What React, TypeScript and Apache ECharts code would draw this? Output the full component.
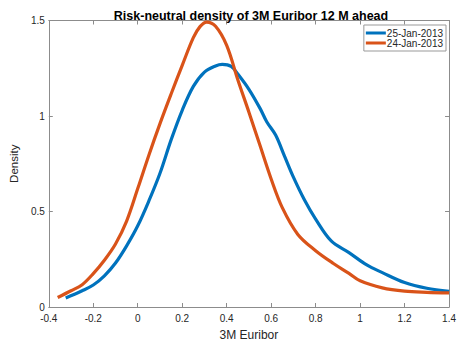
import React, { useEffect, useRef } from "react";
import * as echarts from "echarts";

const xTicksMin = -0.4;
const xTicksMax = 1.4;
const yTicksMax = 1.5;

const blueX = [-0.324, -0.25, -0.2, -0.15, -0.1, -0.05, 0.0, 0.05, 0.1, 0.15, 0.2, 0.25, 0.3, 0.35, 0.38, 0.42, 0.45, 0.5, 0.55, 0.58, 0.62, 0.66, 0.7, 0.75, 0.8, 0.87, 0.95, 1.03, 1.1, 1.2, 1.3, 1.4];
const blueY = [0.047, 0.085, 0.115, 0.163, 0.23, 0.32, 0.425, 0.555, 0.7, 0.875, 1.03, 1.155, 1.23, 1.262, 1.27, 1.26, 1.22, 1.14, 1.04, 0.97, 0.9, 0.79, 0.68, 0.56, 0.46, 0.346, 0.285, 0.22, 0.18, 0.128, 0.098, 0.082];

const orangeX = [-0.36, -0.3, -0.25, -0.2, -0.15, -0.1, -0.05, 0.0, 0.05, 0.1, 0.15, 0.2, 0.25, 0.28, 0.31, 0.35, 0.4, 0.45, 0.5, 0.55, 0.6, 0.65, 0.72, 0.8, 0.88, 0.95, 1.0, 1.1, 1.2, 1.3, 1.4];
const orangeY = [0.05, 0.085, 0.117, 0.175, 0.245, 0.33, 0.45, 0.62, 0.795, 0.96, 1.115, 1.265, 1.41, 1.468, 1.492, 1.47, 1.37, 1.19, 1.02, 0.845, 0.67, 0.52, 0.38, 0.295, 0.228, 0.176, 0.137, 0.1, 0.083, 0.077, 0.074];

const seriesNames = ["25-Jan-2013", "24-Jan-2013"];
const titleText = "Risk-neutral density of 3M Euribor 12 M ahead";
const xName = "3M Euribor";
const yName = "Density";

const pair = (xs: number[], ys: number[]) => xs.map((x, i) => [x, ys[i]]);

export default function App() {
  const ref = useRef<HTMLDivElement>(null);
  useEffect(() => {
    if (!ref.current) return;
    const chart = echarts.init(ref.current, null, { renderer: "svg" });
    const axisColor = "#8c8c8c";
    const labelColor = "#262626";
    const font = "Liberation Sans, Arial, sans-serif";
    const boxLine = { show: true, onZero: false, lineStyle: { color: axisColor } };
    const tick = { show: true, inside: true, length: 4, lineStyle: { color: axisColor } };
    chart.setOption({
      animation: false,
      backgroundColor: "#ffffff",
      title: {
        text: titleText,
        left: 246,
        textAlign: "center",
        top: 4,
        textStyle: { fontSize: 12.5, fontWeight: "bold", color: "#000", fontFamily: font },
      },
      legend: {
        data: seriesNames,
        orient: "vertical",
        right: 13,
        top: 25,
        itemWidth: 20,
        itemHeight: 3,
        itemGap: 0,
        icon: "rect",
        padding: [3, 3, 3, 2],
        borderColor: "#999",
        borderWidth: 1,
        backgroundColor: "#fff",
        textStyle: { fontSize: 10, color: labelColor, fontFamily: font, padding: [0, 0, 0, -4] },
      },
      grid: { left: 41, right: 8, top: 20.5, bottom: 31.5, containLabel: false },
      xAxis: [
        {
          type: "value",
          min: xTicksMin,
          max: xTicksMax,
          interval: 0.2,
          name: xName,
          nameLocation: "middle",
          nameGap: 22,
          nameTextStyle: { fontSize: 12, color: labelColor, fontFamily: font },
          axisLine: boxLine,
          axisTick: tick,
          axisLabel: { fontSize: 10, color: labelColor, fontFamily: font, margin: 6, showMinLabel: true, showMaxLabel: true },
          splitLine: { show: false },
        },
        {
          type: "value",
          position: "top",
          min: xTicksMin,
          max: xTicksMax,
          interval: 0.2,
          axisLine: boxLine,
          axisTick: tick,
          axisLabel: { show: false },
          splitLine: { show: false },
        },
      ],
      yAxis: [
        {
          type: "value",
          min: 0,
          max: yTicksMax,
          interval: 0.5,
          name: yName,
          nameLocation: "middle",
          nameGap: 24,
          nameTextStyle: { fontSize: 11.5, color: labelColor, fontFamily: font },
          axisLine: boxLine,
          axisTick: tick,
          axisLabel: { fontSize: 10, color: labelColor, fontFamily: font, margin: 4 },
          splitLine: { show: false },
        },
        {
          type: "value",
          position: "right",
          min: 0,
          max: yTicksMax,
          interval: 0.5,
          axisLine: boxLine,
          axisTick: tick,
          axisLabel: { show: false },
          splitLine: { show: false },
        },
      ],
      series: [
        {
          name: seriesNames[0],
          type: "line",
          data: pair(blueX, blueY),
          smooth: 0.35,
          showSymbol: false,
          symbol: "none",
          color: "#0072BD",
          lineStyle: { width: 3.2, color: "#0072BD" },
        },
        {
          name: seriesNames[1],
          type: "line",
          data: pair(orangeX, orangeY),
          smooth: 0.35,
          showSymbol: false,
          symbol: "none",
          color: "#D95319",
          lineStyle: { width: 3.2, color: "#D95319" },
        },
      ],
    });
    return () => chart.dispose();
  }, []);
  return <div ref={ref} style={{ position: "fixed", left: 0, top: 0, width: 459, height: 346 }} />;
}
